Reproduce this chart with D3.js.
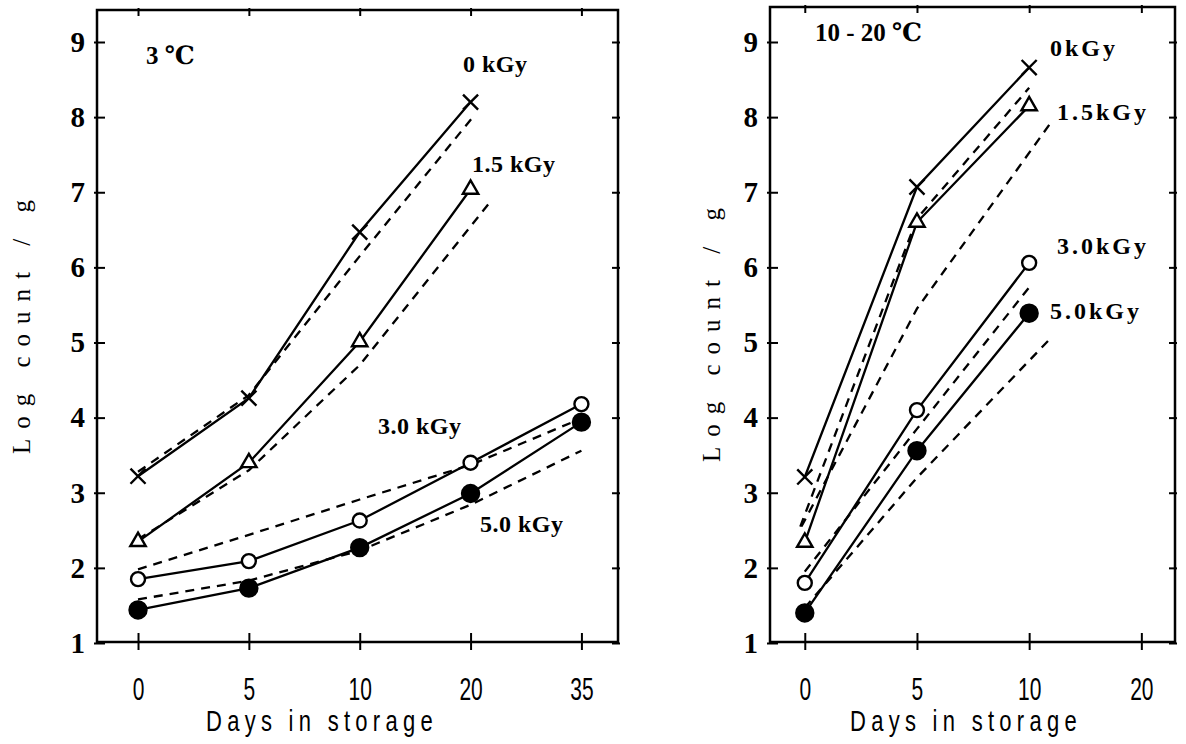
<!DOCTYPE html>
<html>
<head>
<meta charset="utf-8">
<script src="https://cdn.jsdelivr.net/npm/d3@7"></script>
<style>
    body { margin: 0; background: #fff; }
</style>
</head>
<body>
<div id="chart-area"></div>
<script>
// x categories (days in storage) and y ticks
let coldDays = ["0", "5", "10", "20", "35"];
let warmDays = ["0", "5", "10", "20"];
let logTicks = [1, 2, 3, 4, 5, 6, 7, 8, 9];
let doseNames = ["0 kGy", "1.5 kGy", "3.0 kGy", "5.0 kGy"];

// 3 C : observed log counts per day index
let cold0 = [3.22, 4.26, 6.47, 8.2];
let cold15 = [2.35, 3.4, 5.01, 7.04];
let cold30 = [1.85, 2.09, 2.63, 3.4, 4.18];
let cold50 = [1.44, 1.73, 2.27, 2.99, 3.94];

// 3 C : dashed curves, [day index, log count]
let coldFit0 = [[0, 3.28], [1, 4.3], [2, 6.15], [3.02, 8.0]];
let coldFit15 = [[0, 2.38], [1, 3.3], [2, 4.7], [3.16, 6.84]];
let coldFit30 = [[0, 1.98], [1, 2.44], [2, 2.91], [3, 3.37], [4, 3.99]];
let coldFit50 = [[0, 1.58], [1, 1.83], [2, 2.23], [3, 2.84], [4, 3.56]];

// 10-20 C : observed
let warm0 = [3.21, 7.07, 8.66];
let warm15 = [2.34, 6.6, 8.15];
let warm30 = [1.8, 4.1, 6.06];
let warm50 = [1.4, 3.56, 5.39];

// 10-20 C : dashed curves
let warmFit0 = [[-0.04, 2.55], [1, 6.65], [2, 8.39]];
let warmFit15 = [[-0.03, 2.55], [1, 5.45], [2.2, 7.94]];
let warmFit30 = [[0, 1.95], [1, 3.85], [2.03, 5.79]];
let warmFit50 = [[0, 1.47], [1, 3.2], [2.2, 5.07]];

let svg = d3.select("#chart-area")
    .append("svg")
    .attr("width", 1186)
    .attr("height", 744);

let serif = "'Liberation Serif', 'DejaVu Serif', serif";
let sans = "'Liberation Sans', 'DejaVu Sans', sans-serif";

function drawPanel(p) {
    let g = svg.append("g");

    let x = d3.scaleLinear().domain(p.xDomain).range([p.left, p.right]);
    let y = d3.scaleLinear().domain([1, 9]).range([643, 42]);
    let bottom = 642;

    let line = d3.line()
        .x(d => x(d[0]))
        .y(d => y(d[1]));

    // dashed curves
    p.fits.forEach(function (f) {
        g.append("path")
            .attr("d", line(f))
            .attr("fill", "none")
            .attr("stroke", "#000")
            .attr("stroke-width", 2.3)
            .attr("stroke-dasharray", "9,7");
    });

    // observed series
    let shapes = [d3.symbolTimes, d3.symbolTriangle2, "open", "filled"];
    p.series.forEach(function (s, k) {
        let pts = s.map((v, i) => [i, v]);
        g.append("path")
            .attr("d", line(pts))
            .attr("fill", "none")
            .attr("stroke", "#000")
            .attr("stroke-width", 2.3);

        let shape = shapes[k];
        if (shape === "open" || shape === "filled") {
            g.selectAll(null).data(pts).enter().append("circle")
                .attr("cx", d => x(d[0]))
                .attr("cy", d => y(d[1]))
                .attr("r", shape === "open" ? 7 : 8.5)
                .attr("fill", shape === "open" ? "#fff" : "#000")
                .attr("stroke", "#000")
                .attr("stroke-width", 2.4);
        } else {
            g.selectAll(null).data(pts).enter().append("path")
                .attr("transform", d => `translate(${x(d[0])},${y(d[1])})`)
                .attr("d", d3.symbol().type(shape).size(shape === d3.symbolTimes ? 150 : 170))
                .attr("fill", shape === d3.symbolTimes ? "none" : "#fff")
                .attr("stroke", "#000")
                .attr("stroke-width", 2.4);
        }
    });

    // frame
    g.append("rect")
        .attr("x", p.left)
        .attr("y", p.top)
        .attr("width", p.right - p.left)
        .attr("height", bottom - p.top)
        .attr("fill", "none")
        .attr("stroke", "#000")
        .attr("stroke-width", 2.5);

    let idx = d3.range(p.days.length);

    let xAxis = g.append("g")
        .attr("transform", `translate(0,${bottom})`)
        .call(d3.axisBottom(x).tickValues(idx).tickFormat(i => p.days[i])
            .tickSize(8).tickPadding(0));
    xAxis.select(".domain").remove();
    xAxis.selectAll(".tick line").attr("y1", -9).attr("stroke-width", 2);
    // tall, narrow digits like the typewriter face of the original
    xAxis.selectAll(".tick text")
        .attr("y", 0)
        .attr("dy", null)
        .attr("transform", "translate(0,58) scale(0.75,1.15)")
        .attr("font-family", sans)
        .attr("font-size", 28)
        .attr("fill", "#000");

    let topAxis = g.append("g")
        .attr("transform", `translate(0,${p.top})`)
        .call(d3.axisTop(x).tickValues(idx).tickFormat("").tickSize(-6));
    topAxis.select(".domain").remove();
    topAxis.selectAll(".tick line").attr("y1", -2).attr("stroke-width", 2);

    let yAxis = g.append("g")
        .attr("transform", `translate(${p.left},0)`)
        .call(d3.axisLeft(y).tickValues(logTicks).tickSize(-8).tickPadding(12));
    yAxis.select(".domain").remove();
    yAxis.selectAll(".tick line").attr("x1", -3).attr("stroke-width", 2);
    yAxis.selectAll(".tick text")
        .attr("font-family", serif)
        .attr("font-weight", "bold")
        .attr("font-size", 29)
        .attr("fill", "#000");

    let rightAxis = g.append("g")
        .attr("transform", `translate(${p.right},0)`)
        .call(d3.axisRight(y).tickValues(logTicks).tickFormat("").tickSize(-6));
    rightAxis.select(".domain").remove();
    rightAxis.selectAll(".tick line").attr("x1", 2).attr("stroke-width", 2);

    // axis titles
    g.append("text")
        .attr("transform", `translate(${p.xTitleX},731) scale(0.88,1.15)`)
        .attr("text-anchor", "middle")
        .attr("font-family", sans)
        .attr("font-size", 25)
        .attr("letter-spacing", 6)
        .text("Days in storage");

    g.append("text")
        .attr("transform", `translate(${p.yTitleX},${p.yTitleY}) rotate(-90)`)
        .attr("text-anchor", "middle")
        .attr("font-family", serif)
        .attr("font-size", 25)
        .attr("letter-spacing", 10)
        .text("Log count / g");

    g.append("text")
        .attr("x", p.tempX)
        .attr("y", p.tempY)
        .attr("font-family", serif)
        .attr("font-weight", "bold")
        .attr("font-size", 25)
        .text(p.temp);

    p.labels.forEach(function (l, k) {
        g.append("text")
            .attr("x", l[0])
            .attr("y", l[1])
            .attr("font-family", serif)
            .attr("font-weight", "bold")
            .attr("font-size", 24)
            .attr("letter-spacing", p.spacing)
            .text(p.dose[k]);
    });
}

drawPanel({
    left: 97, right: 618, top: 10,
    xDomain: [-0.37, 4.33],
    days: coldDays,
    series: [cold0, cold15, cold30, cold50],
    fits: [coldFit0, coldFit15, coldFit30, coldFit50],
    xTitleX: 322, yTitleX: 30, yTitleY: 322,
    temp: "3 ℃", tempX: 146, tempY: 64,
    dose: doseNames,
    labels: [[463, 72], [472, 172], [378, 434], [480, 532]],
    spacing: 0.5
});

drawPanel({
    left: 770, right: 1175, top: 7,
    xDomain: [-0.31, 3.3],
    days: warmDays,
    series: [warm0, warm15, warm30, warm50],
    fits: [warmFit0, warmFit15, warmFit30, warmFit50],
    xTitleX: 966, yTitleX: 720, yTitleY: 330,
    temp: "10 - 20 ℃", tempX: 815, tempY: 41,
    dose: doseNames.map(d => d.replace(" ", "")),
    labels: [[1050, 56], [1057, 120], [1057, 254], [1050, 319]],
    spacing: 3
});
</script>
</body>
</html>
